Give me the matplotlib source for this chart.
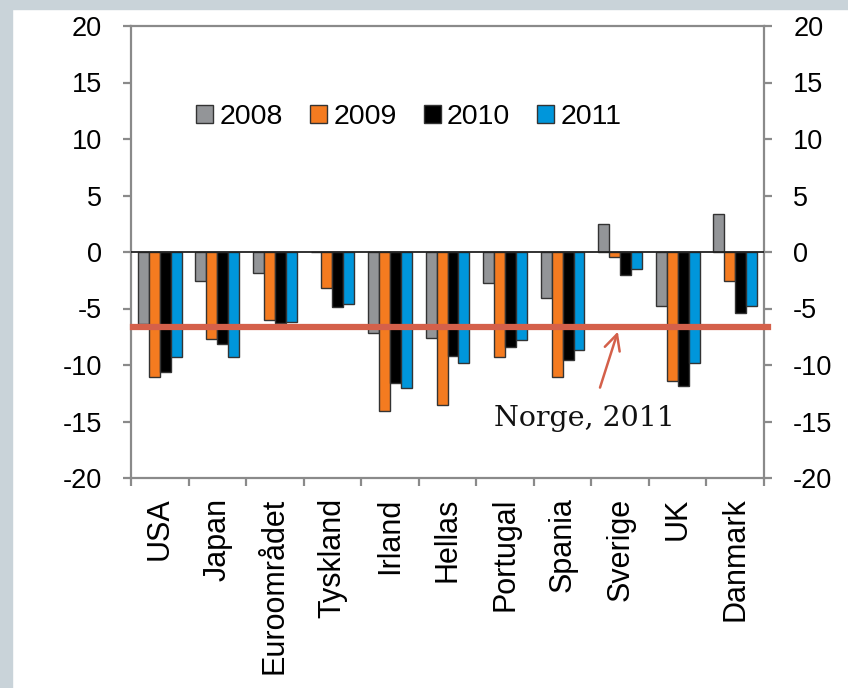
import matplotlib.pyplot as plt
import numpy as np
from matplotlib.patches import Rectangle

# Data
countries = ['USA', 'Japan', 'Euroområdet', 'Tyskland', 'Irland', 'Hellas',
             'Portugal', 'Spania', 'Sverige', 'UK', 'Danmark']
years = ['2008', '2009', '2010', '2011']
v2008 = [-6.4, -2.6, -1.9, 0.0, -7.2, -7.6, -2.7, -4.1, 2.5, -4.8, 3.4]
v2009 = [-11.1, -7.7, -6.0, -3.2, -14.1, -13.5, -9.3, -11.1, -0.4, -11.4, -2.6]
v2010 = [-10.6, -8.1, -6.3, -4.9, -11.6, -9.2, -8.4, -9.6, -2.0, -11.9, -5.4]
v2011 = [-9.3, -9.3, -6.2, -4.6, -12.0, -9.8, -7.8, -8.7, -1.5, -9.8, -4.8]
norge_2011 = -6.6
yticks = [20, 15, 10, 5, 0, -5, -10, -15, -20]

colors = ['#939598', '#f47b20', '#000000', '#0096db']
series = [v2008, v2009, v2010, v2011]

plt.rcParams['font.family'] = ['Liberation Sans', 'DejaVu Sans']
plt.rcParams['axes.unicode_minus'] = False

fig = plt.figure(figsize=(8.48, 6.88), dpi=100, facecolor='white')
# grey frame strips of the page
fig.patches.append(Rectangle((0, 1 - 9 / 688), 1, 9 / 688, transform=fig.transFigure,
                             color='#c9d3d9', zorder=0))
fig.patches.append(Rectangle((0, 0), 12 / 848, 1, transform=fig.transFigure,
                             color='#c9d3d9', zorder=0))

ax = fig.add_axes([131 / 848, 1 - 478 / 688, 633 / 848, 452 / 688])

x = np.arange(len(countries))
w = 0.19
for i, (vals, c) in enumerate(zip(series, colors)):
    ax.bar(x + (i - 1.5) * w, vals, width=w, color=c, edgecolor='#333333',
           linewidth=1.0, label=years[i], zorder=2)

ax.axhline(0, color='#222222', linewidth=1.3, zorder=3)
ax.axhline(norge_2011, xmin=0.003, xmax=1.006, color='#d4604a', linewidth=4.5,
           zorder=4, clip_on=False)

# arrow and label for the Norway line
ax.annotate('', xy=(7.96, norge_2011 - 0.45), xytext=(7.65, -12.0),
            arrowprops=dict(arrowstyle='->', color='#d4604a', lw=1.8,
                            mutation_scale=28, shrinkA=0, shrinkB=0))
ax.text(7.37, -14.75, 'Norge, 2011', ha='center', va='center', fontsize=20.5,
        family='DejaVu Serif', color='#111111')

ax.set_xlim(-0.5, len(countries) - 0.5)
ax.set_ylim(-20, 20)
ax.set_yticks(yticks)
ax.set_xticks(np.arange(len(countries) + 1) - 0.5)
ax.set_xticklabels([])
ax.set_xticks(x, minor=True)
ax.set_xticklabels(countries, minor=True, rotation=90, fontsize=22)

for s in ax.spines.values():
    s.set_color('#8a8a8a')
    s.set_linewidth(1.6)

ax.tick_params(axis='y', direction='out', length=6, width=1.6, color='#8a8a8a',
               labelsize=19.5, pad=15, left=True, right=True, labelright=True)
ax.tick_params(axis='x', which='major', direction='out', length=6, width=1.6,
               color='#8a8a8a')
ax.tick_params(axis='x', which='minor', length=0, pad=14)

ax.legend(loc='center left', bbox_to_anchor=(0.103, 0.798), ncol=4, frameon=False,
          fontsize=20.5, handlelength=0.6, handleheight=0.6, handletextpad=0.22,
          columnspacing=0.95, borderaxespad=0, borderpad=0)

fig.savefig('out.png', dpi=100, facecolor='white')
